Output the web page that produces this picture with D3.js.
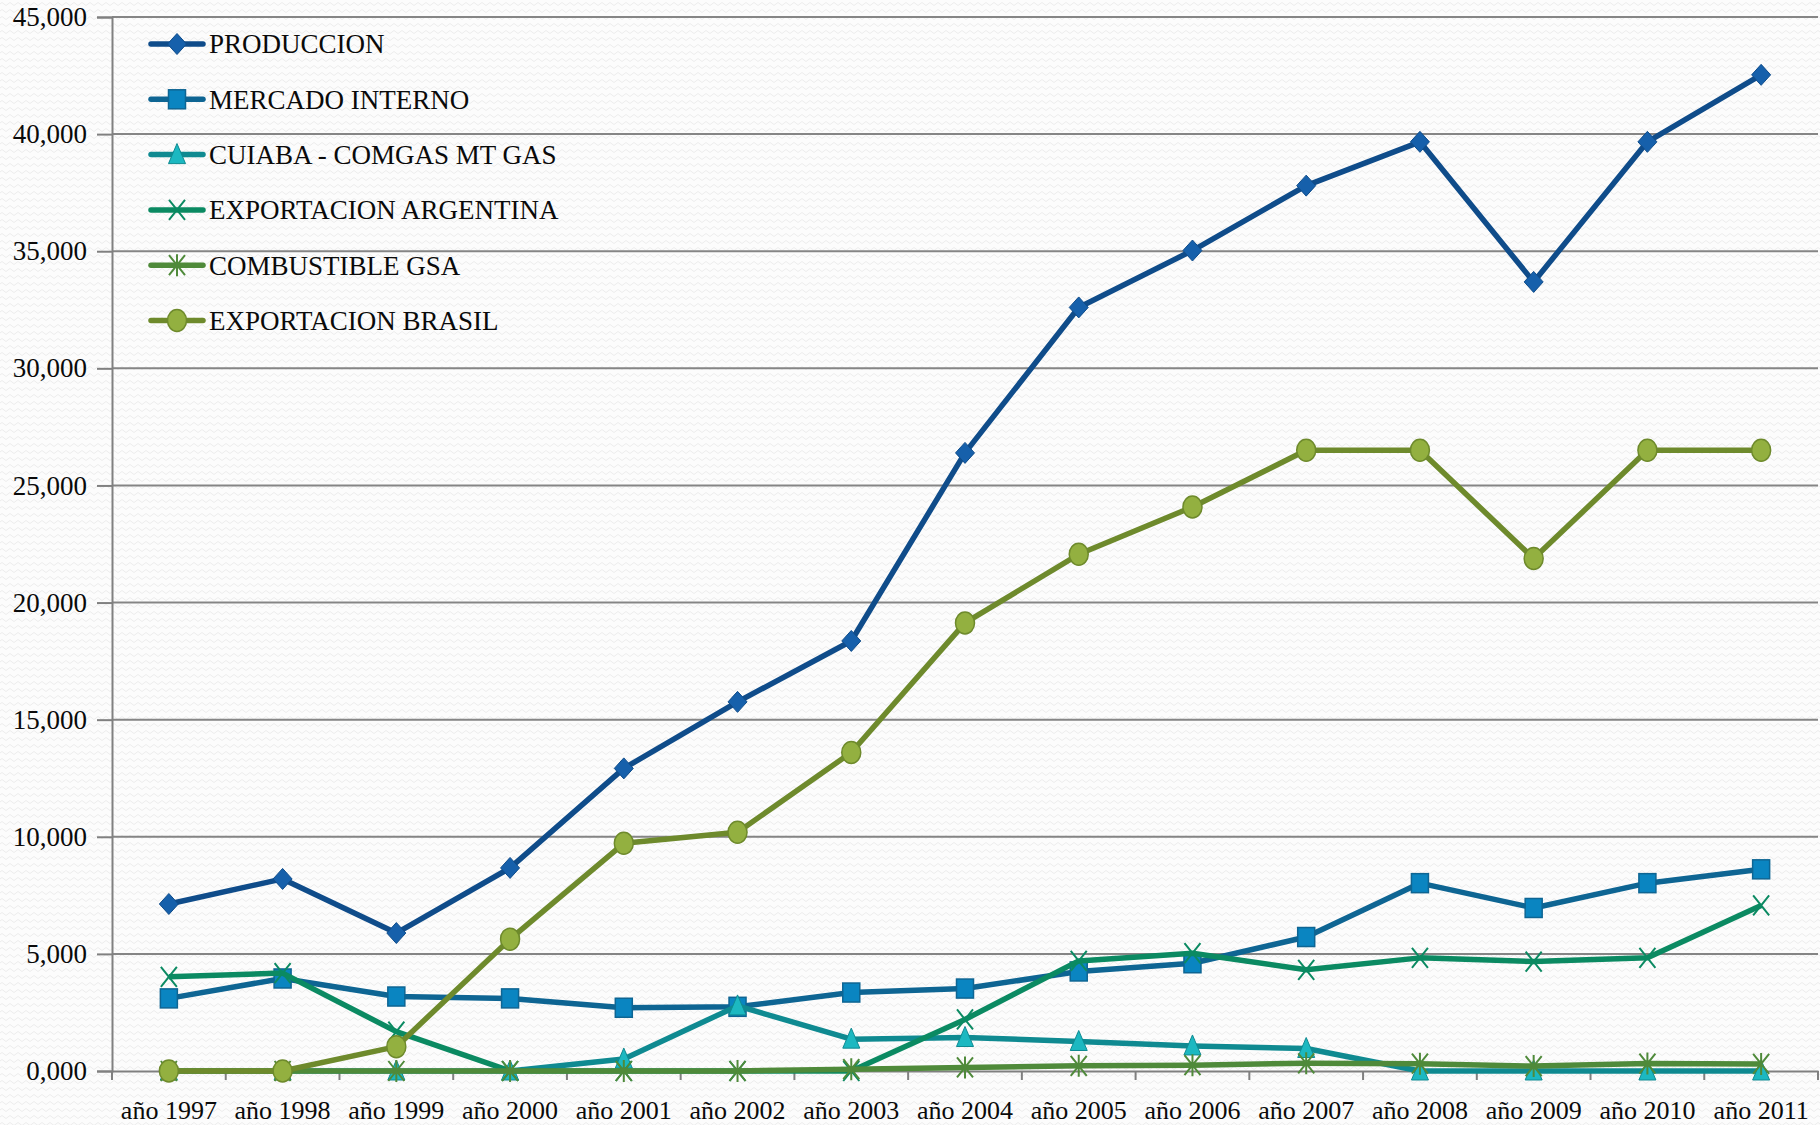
<!DOCTYPE html>
<html>
<head>
<meta charset="utf-8">
<script src="https://cdn.jsdelivr.net/npm/d3@7"></script>
<style>
html,body{margin:0;padding:0;background:#fbfbfb;}
svg{display:block;}
</style>
</head>
<body>
<svg id="chart" width="1820" height="1125"></svg>
<script>
const categories = ["año 1997","año 1998","año 1999","año 2000","año 2001","año 2002","año 2003","año 2004","año 2005","año 2006","año 2007","año 2008","año 2009","año 2010","año 2011"];
const produccion = [7130, 8200, 5890, 8670, 12920, 15760, 18360, 26390, 32600, 35030, 37800, 39670, 33690, 39670, 42530];
const mercadoInterno = [3100, 3950, 3180, 3100, 2700, 2740, 3350, 3520, 4250, 4600, 5720, 8020, 6960, 8020, 8610];
const cuiaba = [0, 0, 0, 0, 510, 2780, 1360, 1430, 1260, 1070, 960, 0, 0, 0, 0];
const exportacionArgentina = [4020, 4180, 1680, 0, 0, 0, 0, 2200, 4700, 5030, 4320, 4830, 4670, 4830, 7070];
const combustibleGSA = [0, 0, 0, 0, 0, 0, 80, 150, 220, 250, 330, 310, 210, 320, 300];
const exportacionBrasil = [0, 0, 1040, 5630, 9720, 10190, 13600, 19130, 22060, 24080, 26500, 26500, 21880, 26500, 26500];
const seriesNames = ["PRODUCCION","MERCADO INTERNO","CUIABA - COMGAS MT GAS","EXPORTACION ARGENTINA","COMBUSTIBLE GSA","EXPORTACION BRASIL"];
const yTickValues = [0, 5000, 10000, 15000, 20000, 25000, 30000, 35000, 40000, 45000];
const yTickLabels = ["0,000","5,000","10,000","15,000","20,000","25,000","30,000","35,000","40,000","45,000"];

const seriesStyle = [
  {line:"#0f4c8a", fill:"#1660ab", stroke:"#0f4c8a", marker:"diamond"},
  {line:"#0e6593", fill:"#0a85c1", stroke:"#0e6593", marker:"square"},
  {line:"#0f8a91", fill:"#1cb8c1", stroke:"#0f8a91", marker:"triangle"},
  {line:"#0b8a62", fill:"none", stroke:"#0b8a62", marker:"x"},
  {line:"#4f8a3a", fill:"none", stroke:"#4f8a3a", marker:"star"},
  {line:"#6e8a2c", fill:"#93b040", stroke:"#6e8a2c", marker:"circle"}
];
const seriesData = [produccion, mercadoInterno, cuiaba, exportacionArgentina, combustibleGSA, exportacionBrasil];

(function(){
const svg = d3.select("#chart");
const defs = svg.append("defs");
const pat = defs.append("pattern").attr("id","bgpat").attr("patternUnits","userSpaceOnUse")
  .attr("width",8).attr("height",7);
pat.append("path").attr("d","M0,4 Q2,1 4,4 T8,4").attr("fill","none").attr("stroke","#ececec").attr("stroke-width",1);
svg.append("rect").attr("width",1820).attr("height",1125).attr("fill","#fcfcfc");
svg.append("rect").attr("width",1820).attr("height",1125).attr("fill","url(#bgpat)");

const mLeft = 112, mRight = 1818, mTop = 17, mBottom = 1071;
const x = d3.scaleBand().domain(categories).range([mLeft, mRight]).paddingInner(0).paddingOuter(0);
const y = d3.scaleLinear().domain([0, 45000]).range([mBottom, mTop]);
const cx = c => x(c) + x.bandwidth()/2;

const fontFam = "'Liberation Serif','DejaVu Serif',serif";

const grid = svg.append("g");
grid.selectAll("line").data(yTickValues.filter(v => v > 0)).enter().append("line")
  .attr("x1", mLeft).attr("x2", mRight).attr("y1", d => y(d)).attr("y2", d => y(d))
  .attr("stroke", "#858585").attr("stroke-width", 2);

const yAxis = d3.axisLeft(y).tickValues(yTickValues).tickSize(15).tickPadding(10)
  .tickFormat((d,i) => yTickLabels[i]);
const gy = svg.append("g").attr("transform", `translate(${mLeft},0)`).call(yAxis);
gy.select(".domain").attr("stroke","#808080").attr("stroke-width",2);
gy.selectAll(".tick line").attr("stroke","#808080").attr("stroke-width",2);
gy.selectAll(".tick text").attr("font-family", fontFam).attr("font-size", 27).attr("fill","#0a0a0a").attr("dy","0.32em");

const xAxis = d3.axisBottom(x).tickSize(0).tickPadding(30);
const gx = svg.append("g").attr("transform", `translate(0,${mBottom})`).call(xAxis);
gx.select(".domain").attr("stroke","#808080").attr("stroke-width",2);
gx.selectAll(".tick text").attr("font-family", fontFam).attr("font-size", 26).attr("fill","#0a0a0a");
const bounds = categories.map(c => x(c)).concat([mRight]);
svg.append("g").selectAll("line").data(bounds).enter().append("line")
  .attr("x1", d => d).attr("x2", d => d).attr("y1", mBottom).attr("y2", mBottom + 9)
  .attr("stroke","#808080").attr("stroke-width",2);

function drawMarker(g, type, st) {
  if (type === "diamond") {
    g.append("path").attr("d","M0,-10.5 L9.5,0 L0,10.5 L-9.5,0 Z").attr("fill",st.fill).attr("stroke",st.stroke).attr("stroke-width",1);
  } else if (type === "square") {
    g.append("rect").attr("x",-8.5).attr("y",-9.5).attr("width",17).attr("height",19).attr("fill",st.fill).attr("stroke",st.stroke).attr("stroke-width",1.5);
  } else if (type === "triangle") {
    g.append("path").attr("d","M0,-11 L8.5,9 L-8.5,9 Z").attr("fill",st.fill).attr("stroke",st.stroke).attr("stroke-width",1);
  } else if (type === "x") {
    g.append("path").attr("d","M-8,-10 L8,10 M-8,10 L8,-10").attr("stroke",st.stroke).attr("stroke-width",2).attr("fill","none");
  } else if (type === "star") {
    g.append("path").attr("d","M-8,-10 L8,10 M-8,10 L8,-10 M0,-11 L0,11").attr("stroke",st.stroke).attr("stroke-width",2).attr("fill","none");
  } else if (type === "circle") {
    g.append("ellipse").attr("rx",9.5).attr("ry",11).attr("fill",st.fill).attr("stroke",st.stroke).attr("stroke-width",1.5);
  }
}

const line = d3.line().x((d,i) => cx(categories[i])).y(d => y(d));

seriesData.forEach((vals, si) => {
  const st = seriesStyle[si];
  const g = svg.append("g");
  g.append("path").datum(vals).attr("d", line).attr("fill","none")
    .attr("stroke", st.line).attr("stroke-width", 5.5).attr("stroke-linejoin","round");
  vals.forEach((v, i) => {
    const mg = g.append("g").attr("transform", `translate(${cx(categories[i])},${y(v)})`);
    drawMarker(mg, st.marker, st);
  });
});

const legendY0 = 44, legendStep = 55.3;
const lg = svg.append("g");
seriesNames.forEach((name, i) => {
  const st = seriesStyle[i];
  const yy = legendY0 + i*legendStep;
  lg.append("line").attr("x1",151).attr("x2",203).attr("y1",yy).attr("y2",yy)
    .attr("stroke", st.line).attr("stroke-width",5.5).attr("stroke-linecap","round");
  const mg = lg.append("g").attr("transform", `translate(177,${yy})`);
  drawMarker(mg, st.marker, st);
  lg.append("text").attr("x",209).attr("y",yy).attr("dy","0.35em")
    .attr("font-family", fontFam).attr("font-size",27).attr("fill","#0a0a0a").text(name);
});
})();
</script>
</body>
</html>
